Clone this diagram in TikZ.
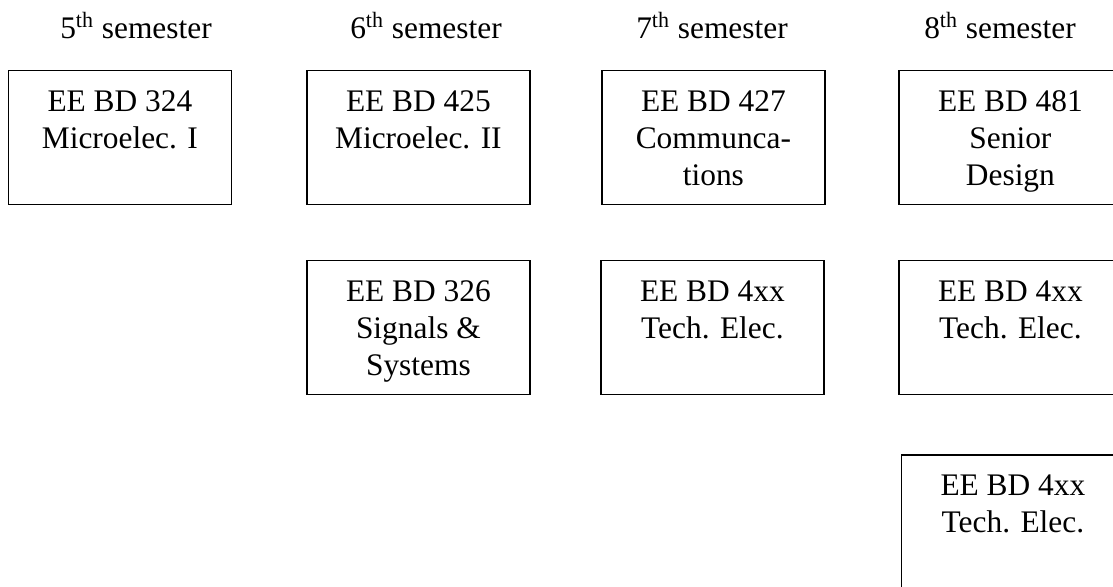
\documentclass[tikz,border=0pt]{standalone}
\usepackage{fontspec}
\setmainfont{Liberation Serif}
\newcommand{\coursetext}[1]{\parbox[t][67pt][t]{111.5pt}{\centering\vspace*{7.5pt}\strut#1}}
\begin{document}
\begin{tikzpicture}[
    x=0.5pt, y=-0.5pt,
    every node/.style={font=\fontsize{15.7}{18.5}\selectfont},
    semester/.style={anchor=base, inner sep=0pt},
    course/.style={draw, line width=0.9pt, inner sep=0pt, anchor=north west}
]
\useasboundingbox (0,0) rectangle (1113,586);
\clip (0,0) rectangle (1113,586);
% semester headings
\node[semester] (sem5) at (136,38) {5\textsuperscript{th} semester};
\node[semester] (sem6) at (426,38) {6\textsuperscript{th} semester};
\node[semester] (sem7) at (712,38) {7\textsuperscript{th} semester};
\node[semester] (sem8) at (1000,38) {8\textsuperscript{th} semester};
% first row
\node[course] (c324) at (7.5,69.5) {\coursetext{EE BD 324\\Microelec. I}};
\node[course] (c425) at (306,69.5) {\coursetext{EE BD 425\\Microelec. II}};
\node[course] (c427) at (601,69.5) {\coursetext{EE BD 427\\Communca-\\tions}};
\node[course] (c481) at (898,69.5) {\coursetext{EE BD 481\\Senior\\Design}};
% second row
\node[course] (c326) at (306,259.5) {\coursetext{EE BD 326\\Signals \&\\Systems}};
\node[course] (c4xxa) at (600,259.5) {\coursetext{EE BD 4xx\\Tech. Elec.}};
\node[course] (c4xxb) at (898,259.5) {\coursetext{EE BD 4xx\\Tech. Elec.}};
% third row
\node[course] (c4xxc) at (900.5,454) {\coursetext{EE BD 4xx\\Tech. Elec.}};
\end{tikzpicture}
\end{document}
